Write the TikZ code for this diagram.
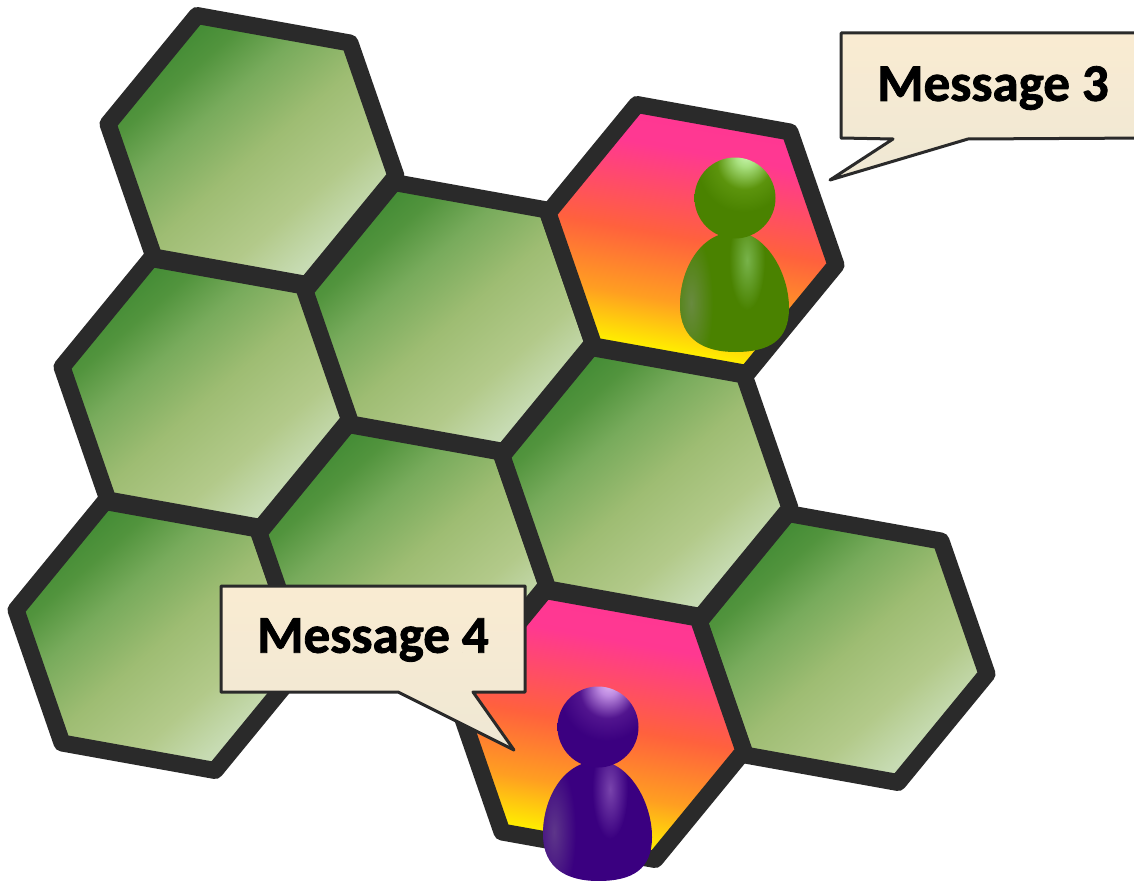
\documentclass[tikz,border=0pt]{standalone}
\usepackage{fontspec}
\setmainfont{Carlito}[BoldFeatures={FakeBold=1.6}]
\usetikzlibrary{fadings}
\definecolor{hexline}{HTML}{2A2A2A}
\definecolor{gbase}{HTML}{4A8200}
\definecolor{pbase}{HTML}{3A0080}
\definecolor{gband}{HTML}{80BC58}
\definecolor{gedge}{HTML}{6E8C4A}
\definecolor{pband}{HTML}{8450B4}
\definecolor{pedge}{HTML}{64408C}
\tikzfading[name=softglow,inner color=transparent!15,outer color=transparent!100]
\pgfdeclareverticalshading{greenhexb}{100bp}{rgb(0bp)=(0.78,0.86,0.72);rgb(28bp)=(0.78,0.86,0.70);rgb(37bp)=(0.70,0.79,0.54);rgb(49bp)=(0.62,0.74,0.45);rgb(60bp)=(0.47,0.67,0.36);rgb(68bp)=(0.32,0.58,0.24);rgb(75bp)=(0.25,0.54,0.20);rgb(100bp)=(0.25,0.54,0.20)}
\pgfdeclareverticalshading{pinkhex}{100bp}{rgb(0bp)=(1,0.95,0);rgb(29bp)=(1,0.93,0);rgb(38bp)=(1,0.62,0.13);rgb(50bp)=(1,0.38,0.24);rgb(66bp)=(1,0.22,0.57);rgb(100bp)=(1,0.2,0.6)}
\pgfdeclareradialshading{ghead}{\pgfpoint{7bp}{27bp}}{rgb(0bp)=(0.80,0.97,0.70);rgb(6bp)=(0.66,0.88,0.50);rgb(17bp)=(0.36,0.58,0.05);rgb(28bp)=(0.29,0.51,0);rgb(100bp)=(0.29,0.51,0)}
\pgfdeclareradialshading{phead}{\pgfpoint{7bp}{27bp}}{rgb(0bp)=(0.88,0.72,0.96);rgb(6bp)=(0.74,0.54,0.88);rgb(17bp)=(0.32,0.08,0.56);rgb(28bp)=(0.23,0,0.50);rgb(100bp)=(0.23,0,0.50)}
\pgfdeclareverticalshading{calloutfill}{100bp}{rgb(0bp)=(0.86,0.83,0.73);rgb(30bp)=(0.94,0.91,0.83);rgb(100bp)=(1,0.93,0.82)}
\tikzset{
  x=1pt,y=-1pt,
  hexcell/.style={draw=hexline,line width=17pt,line join=round},
  greencell/.style={hexcell,shading=greenhexb,shading angle=41},
  pinkcell/.style={hexcell,shading=pinkhex,shading angle=-10},
  callout/.style={draw=hexline,line width=3pt,line join=round,shading=calloutfill},
  msg/.style={font=\bfseries\fontsize{53}{53}\selectfont,text=black,inner sep=0pt},
}
\newcommand\hexat[3]{\path[#1] (#2-55,#3-134.5) -- (#2+98,#3-107) -- (#2+144,#3+26) -- (#2+55,#3+134.5) -- (#2-98,#3+107) -- (#2-144,#3-26) -- cycle;}
\newcommand\personat[6]{% x, head y, base, head shading, band colour, edge colour
  \begin{scope}
    \path[fill=#3] (#1,#2+34) .. controls (#1-35,#2+34) and (#1-55,#2+72) .. (#1-55,#2+107)
       .. controls (#1-55,#2+142) and (#1-30,#2+154) .. (#1,#2+154)
       .. controls (#1+35,#2+154) and (#1+54,#2+142) .. (#1+54,#2+110)
       .. controls (#1+54,#2+74) and (#1+30,#2+34) .. (#1,#2+34) -- cycle;
    \clip (#1,#2+34) .. controls (#1-35,#2+34) and (#1-55,#2+72) .. (#1-55,#2+107)
       .. controls (#1-55,#2+142) and (#1-30,#2+154) .. (#1,#2+154)
       .. controls (#1+35,#2+154) and (#1+54,#2+142) .. (#1+54,#2+110)
       .. controls (#1+54,#2+74) and (#1+30,#2+34) .. (#1,#2+34) -- cycle;
    \fill[#6,path fading=softglow] (#1-44,#2+105) ellipse [x radius=22,y radius=70];
    \fill[#5,path fading=softglow] (#1+12,#2+62) ellipse [x radius=18,y radius=50];
  \end{scope}
  \path[shading=#4] (#1,#2) circle [radius=40.5];
}
\begin{document}
\begin{tikzpicture}
\useasboundingbox (0,0) rectangle (1134,880);
\clip (0,0) rectangle (1134,880);
\hexat{greencell}{252}{150}
\hexat{greencell}{206}{393}
\hexat{greencell}{449}{317}
\hexat{greencell}{160}{636}
\hexat{greencell}{403}{559}
\hexat{greencell}{646}{482}
\hexat{greencell}{843}{648}
\hexat{pinkcell}{692}{239}
\hexat{pinkcell}{600}{725}
\personat{735}{198}{gbase}{ghead}{gband}{gedge}
\personat{598}{727}{pbase}{phead}{pband}{pedge}
\path[callout] (841,33) -- (1150,33) -- (1150,138) -- (968,139) -- (830,180) -- (893,139) -- (841,138) -- cycle;
\node[msg] (m3) at (993,88) {Message 3};
\path[callout] (221,586) -- (525,586) -- (525,692) -- (473,692) -- (514,750) -- (398,692) -- (221,692) -- cycle;
\node[msg] (m4) at (373,640) {Message 4};
\end{tikzpicture}
\end{document}
